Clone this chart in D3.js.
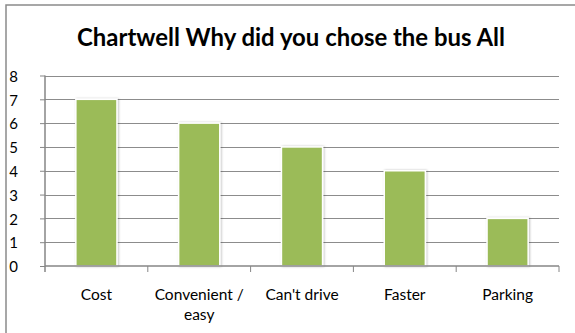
<!DOCTYPE html>
<html><head><meta charset="utf-8">
<script src="https://cdn.jsdelivr.net/npm/d3@7"></script>
<style>body{margin:0;background:#fff;} svg{display:block;}</style>
</head><body>
<svg id="c" width="575" height="333"></svg>
<script>
const title = "Chartwell Why did you chose the bus All";
const categories = ["Cost", "Convenient / easy", "Can't drive", "Faster", "Parking"];
const values = [7, 6, 5, 4, 2];
const yTicks = [0, 1, 2, 3, 4, 5, 6, 7, 8];

const svg = d3.select("#c");
const font = "Lato, Carlito, 'Open Sans', sans-serif";
const m = {left: 45, right: 559, top: 75.5, bottom: 266};

svg.append("rect").attr("x", 6).attr("y", 5).attr("width", 600).attr("height", 400)
  .attr("fill", "#fff").attr("stroke", "#8a8a8a").attr("stroke-width", 1.5);

const defs = svg.append("defs");
const f = defs.append("filter").attr("id", "sh").attr("x", "-20%").attr("y", "-10%").attr("width", "140%").attr("height", "120%");
f.append("feDropShadow").attr("dx", 1).attr("dy", 0).attr("stdDeviation", 1.2).attr("flood-color", "#000").attr("flood-opacity", 0.25);

const x = d3.scaleBand().domain(categories).range([m.left, m.right]).paddingInner(0.6).paddingOuter(0.3);
const xb = d3.scaleBand().domain(categories).range([m.left, m.right]);
const y = d3.scaleLinear().domain([0, 8]).range([m.bottom, m.top]);

// gridlines
svg.append("g").selectAll("line").data(yTicks.filter(d => d > 0)).join("line")
  .attr("x1", m.left).attr("x2", m.right)
  .attr("y1", d => Math.round(y(d)) + 0.5).attr("y2", d => Math.round(y(d)) + 0.5)
  .attr("stroke", "#8c8c8c").attr("stroke-width", 1);

// y axis
const ya = d3.axisLeft(y).tickValues(yTicks).tickSize(5).tickPadding(0).tickFormat(d3.format("d"));
const yg = svg.append("g").attr("transform", `translate(${m.left},0)`).call(ya);
yg.select(".domain").remove();
yg.selectAll(".tick line").attr("stroke", "#868686");
yg.selectAll(".tick text").attr("x", -27).attr("dy", "0.38em").attr("font-family", font).attr("font-size", 15).attr("fill", "#000");
svg.append("line").attr("x1", m.left).attr("x2", m.left).attr("y1", m.top).attr("y2", m.bottom + 6)
  .attr("stroke", "#868686").attr("stroke-width", 1.5);

// bars
svg.append("g").selectAll("rect").data(values).join("rect")
  .attr("x", (d, i) => x(categories[i]))
  .attr("width", x.bandwidth())
  .attr("y", d => y(d))
  .attr("height", d => y(0) - y(d))
  .attr("fill", "#9bbb59").attr("stroke", "#fff").attr("stroke-width", 1.5)
  .attr("filter", "url(#sh)");

// x axis
svg.append("line").attr("x1", m.left).attr("x2", m.right).attr("y1", m.bottom).attr("y2", m.bottom)
  .attr("stroke", "#868686").attr("stroke-width", 1.5);
const bounds = categories.map(c => xb(c)).concat([m.right]);
svg.append("g").selectAll("line").data(bounds.slice(1)).join("line")
  .attr("x1", d => d).attr("x2", d => d).attr("y1", m.bottom).attr("y2", m.bottom + 6)
  .attr("stroke", "#868686").attr("stroke-width", 1);

const lab = svg.append("g").selectAll("text").data(categories).join("text")
  .attr("x", d => xb(d) + xb.bandwidth() / 2)
  .attr("y", 300)
  .attr("text-anchor", "middle").attr("font-family", font).attr("font-size", 15.5).attr("fill", "#000");
lab.each(function(d) {
  const t = d3.select(this);
  const parts = d === "Convenient / easy" ? ["Convenient /", "easy"] : [d];
  parts.forEach((p, i) => t.append("tspan").attr("x", xb(d) + xb.bandwidth() / 2).attr("dy", i ? 20 : 0).text(p));
});

// title
const tt = svg.append("text").attr("x", 291).attr("y", 46).attr("text-anchor", "middle")
  .attr("font-family", font).attr("font-weight", "bold").attr("font-size", 22).attr("fill", "#000").text(title);
const w = tt.node().getComputedTextLength();
tt.attr("font-size", 22 * 428 / w);
</script>
</body></html>
